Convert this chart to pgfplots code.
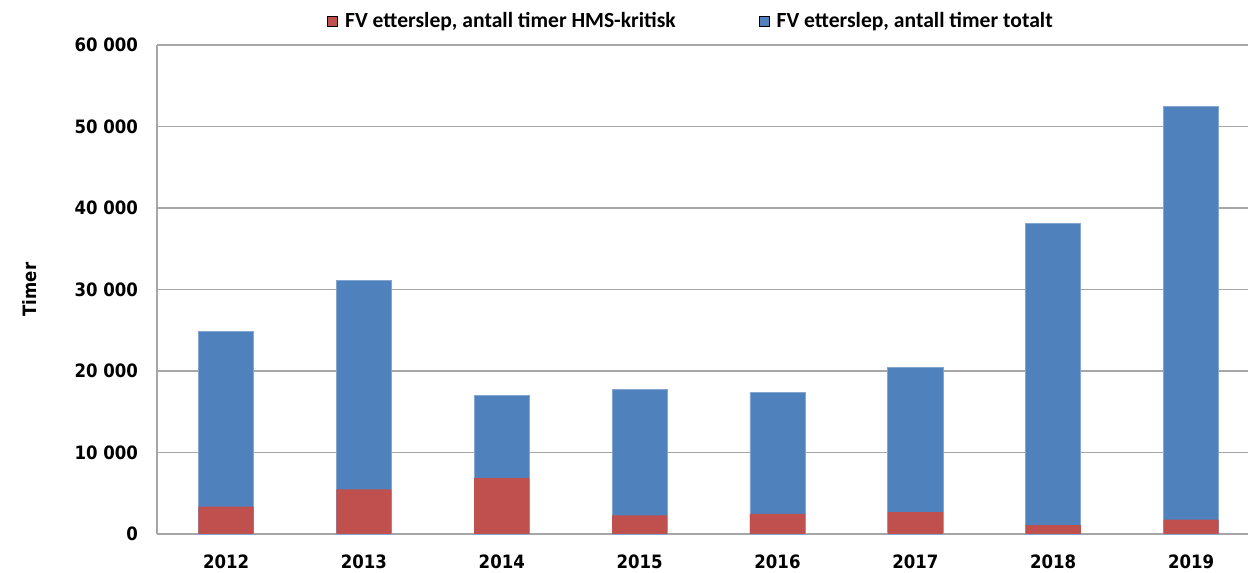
\documentclass[border=0pt]{standalone}
\usepackage{pgfplots}
\pgfplotsset{compat=1.18}
\usepackage{fontspec}
\setmainfont{Liberation Sans}
\newfontfamily\calfont{Carlito}
\newfontfamily\tickfont{DejaVu Sans Condensed}
\definecolor{cblue}{HTML}{4F81BD}
\definecolor{cred}{HTML}{C0504D}
\definecolor{cgrid}{HTML}{A6A6A6}
\begin{document}
\begin{tikzpicture}
\useasboundingbox (-78.5pt,-19.5pt) rectangle (545.5pt,267pt);
\begin{axis}[
  scale only axis,
  width=545.5pt, height=244.5pt,
  at={(0,0)}, anchor=south west,
  xmin=-0.501, xmax=7.413,
  ymin=0, ymax=60000,
  axis x line=bottom, axis y line=left,
  axis line style={-, draw=cgrid, line width=0.8pt},
  xtick={0,1,2,3,4,5,6,7},
  xticklabels={2012,2013,2014,2015,2016,2017,2018,2019},
  ytick={0,10000,20000,30000,40000,50000,60000},
  yticklabels={0,10 000,20 000,30 000,40 000,50 000,60 000},
  scaled y ticks=false,
  major tick length=0pt,
  ymajorgrids, grid style={cgrid, line width=0.8pt},
  tick label style={font=\tickfont\bfseries\fontsize{9.2}{10}\selectfont},
  yticklabel style={xshift=-6pt},
  xticklabel style={yshift=-7pt},
  every axis y label/.style={at={(axis description cs:-0.1164,0.5)}, rotate=90, anchor=center, font=\tickfont\bfseries\fontsize{9.2}{10}\selectfont},
  ylabel={Timer},
  ybar, bar width=0.4, bar shift=0pt,
  legend columns=2,
  legend style={at={(axis description cs:0.4904,1.049)}, anchor=center, draw=none, fill=none,
    font=\calfont\bfseries\fontsize{10.8}{12}\selectfont,
    /tikz/every odd column/.style={column sep=1.5pt},
    /tikz/every even column/.style={column sep=39.5pt}},
  legend image code/.code={\fill[#1] (0pt,-2.5pt) rectangle (5pt,2.5pt);},
  clip=false,
]
\addlegendimage{fill=cred}
\addlegendentry{FV etterslep, antall timer HMS-kritisk}
\addlegendimage{fill=cblue}
\addlegendentry{FV etterslep, antall timer totalt}
\addplot[forget plot, fill=cblue, draw=cblue!70!white, line width=0.4pt] coordinates {
 (0,24820) (1,31070) (2,17010) (3,17700) (4,17350) (5,20400) (6,38050) (7,52500)};
\addplot[forget plot, fill=cred, draw=none] coordinates {
 (0,3350) (1,5480) (2,6870) (3,2300) (4,2480) (5,2670) (6,1100) (7,1760)};
\end{axis}
\end{tikzpicture}
\end{document}
